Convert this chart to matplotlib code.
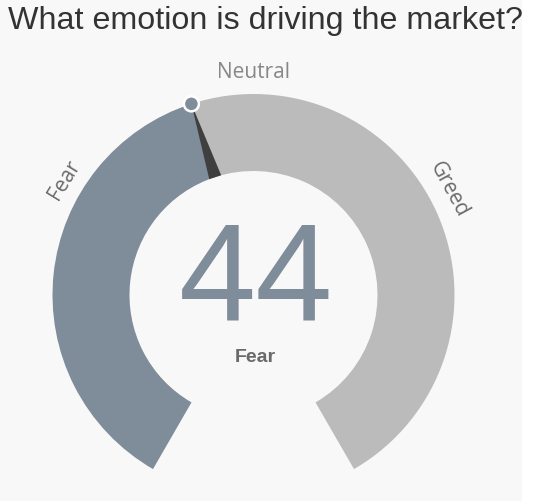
import numpy as np
import matplotlib.pyplot as plt
from matplotlib.patches import Wedge, Circle, Polygon

# gauge data
title = "What emotion is driving the market?"
value = 44
value_label = "Fear"
gauge_min, gauge_max = 0, 100
zone_labels = ["Fear", "Neutral", "Greed"]
zone_values = [30.5, 50, 70.5]  # where each zone label sits on the scale

# colours
fear_col = "#7f8c9a"
greed_col = "#bbbbbb"
needle_col = "#3f3f3f"
bg_col = "#f8f8f8"

W, H = 536, 502
fig = plt.figure(figsize=(W / 100, H / 100), dpi=100, facecolor="white")
ax = fig.add_axes([0, 0, 522 / W, 1])
ax.set_xlim(0, 522)
ax.set_ylim(0, H)
ax.set_facecolor(bg_col)
ax.set_xticks([])
ax.set_yticks([])
for s in ax.spines.values():
    s.set_visible(False)

cx, cy = 253.5, H - 296
r_out, r_in = 201, 124
start_ang, span = 240, 300


def to_angle(v):
    return start_ang - (v - gauge_min) / (gauge_max - gauge_min) * span


a_val = to_angle(value)
ax.add_patch(Wedge((cx, cy), r_out, a_val, start_ang, width=r_out - r_in,
                   facecolor=fear_col, edgecolor="none"))
ax.add_patch(Wedge((cx, cy), r_out, start_ang - span, a_val, width=r_out - r_in,
                   facecolor=greed_col, edgecolor="none"))

# needle: thin triangle from the outer edge down to the inner circle
t = np.deg2rad(a_val)
tip = (cx + r_out * np.cos(t), cy + r_out * np.sin(t))
half = np.deg2rad(2.9)
b1 = (cx + r_in * np.cos(t - half), cy + r_in * np.sin(t - half))
b2 = (cx + r_in * np.cos(t + half), cy + r_in * np.sin(t + half))
ax.add_patch(Polygon([tip, b1, b2], closed=True, facecolor=needle_col, edgecolor="none"))
ax.add_patch(Circle(tip, 7.5, facecolor=fear_col, edgecolor="white", linewidth=1.8, zorder=5))

label_font = ["Open Sans", "DejaVu Sans"]
for lab, v in zip(zone_labels, zone_values):
    a = to_angle(v)
    if lab == "Neutral":
        ax.text(cx, H - 72, lab, ha="center", va="center", fontsize=15,
                color="#888888", family=label_font)
        continue
    rr = 222
    ar = np.deg2rad(a)
    ax.text(cx + rr * np.cos(ar), cy + rr * np.sin(ar), lab, ha="center", va="center",
            rotation=a - 90, rotation_mode="anchor", fontsize=15,
            color="#6a6a6a", family=label_font)

ax.text(256, H - 284, str(value), ha="center", va="center", fontsize=100,
        color=fear_col, family="Liberation Sans")
ax.text(255, H - 357, value_label, ha="center", va="center", fontsize=14,
        fontweight="bold", color="#6a6a6a", family="Liberation Sans")

ax.text(8, H - 29, title, ha="left", va="baseline", fontsize=23.2,
        color="#333333", family="Liberation Sans")

fig.savefig("out.png", dpi=100, facecolor="white")
